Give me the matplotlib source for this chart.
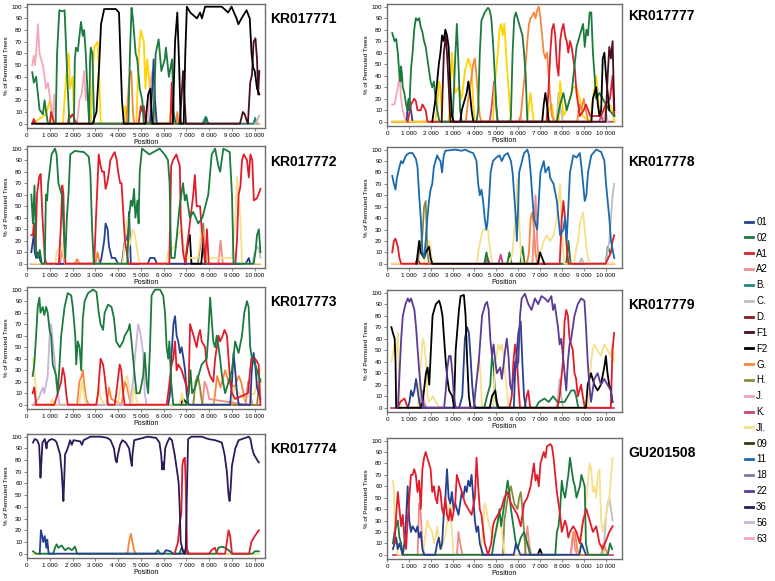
import matplotlib
matplotlib.use("Agg")
from matplotlib import pyplot as plt
from matplotlib.lines import Line2D

plt.rcParams['font.family'] = ['Liberation Sans', 'DejaVu Sans']

# subtype legend
subtypes = ['01', '02', 'A1', 'A2', 'B.', 'C.', 'D.', 'F1', 'F2', 'G.', 'H.', 'J.', 'K.',
            'JI.', '09', '11', '18', '22', '36', '56', '63']
colors = {'01': '#24418f', '02': '#1b7a3e', 'A1': '#e11d2b', 'A2': '#f28a8a', 'B.': '#1f8585',
          'C.': '#bdbdbd', 'D.': '#8b1a1a', 'F1': '#4a0e1e', 'F2': '#000000', 'G.': '#f7873a',
          'H.': '#8c8a3c', 'J.': '#f0a0c0', 'K.': '#d0407a', 'JI.': '#f6e08c', '09': '#3a3a10',
          '11': '#1a6aad', '18': '#7a7aa8', '22': '#5b3b95', '36': '#2e1a5a', '56': '#c8b4d8',
          '63': '#f4a8b8', 'gold': '#ffd400'}

x_ticks = [0, 1000, 2000, 3000, 4000, 5000, 6000, 7000, 8000, 9000, 10000]
y_ticks = [0, 10, 20, 30, 40, 50, 60, 70, 80, 90, 100]

# ---------------- KR017771 ----------------
kr71_63 = [(230, 50), (300, 58), (350, 50), (400, 60), (480, 85), (550, 60), (620, 55), (700, 50), (770, 40),
           (840, 30), (920, 35), (990, 25), (1060, 15), (1130, 5), (1200, 25), (1260, 0), (2200, 0), (2300, 20),
           (2400, 25), (2510, 45), (2580, 20), (2650, 30), (2730, 5), (2800, 0), (5300, 0), (5420, 35),
           (5500, 45), (5580, 10), (5650, 0), (10200, 0)]
kr71_02 = [(230, 44), (300, 35), (400, 40), (480, 25), (550, 12), (700, 8), (770, 20), (840, 10), (920, 0),
           (1260, 0), (1320, 60), (1420, 97), (1550, 96), (1650, 97), (1790, 30), (1860, 0), (2060, 0),
           (2100, 55), (2150, 65), (2230, 62), (2370, 87), (2450, 75), (2510, 80), (2580, 60), (2650, 30),
           (2730, 0), (2770, 55), (2800, 65), (2870, 60), (2950, 0), (4450, 0), (4520, 60), (4590, 99),
           (4650, 90), (4770, 60), (4840, 55), (4950, 30), (5060, 20), (5130, 0), (5550, 0), (5650, 60),
           (5780, 72), (5900, 45), (6050, 55), (6100, 65), (6230, 40), (6370, 55), (6440, 10), (6520, 0),
           (7800, 0), (7880, 5), (7950, 0)]
kr71_gold = [(230, 0), (840, 8), (1000, 20), (1060, 10), (1130, 0), (1580, 0), (1720, 40), (1830, 60),
             (1890, 30), (2000, 40), (2080, 0), (2800, 0), (2880, 40), (2950, 65), (3100, 70), (3170, 40),
             (3240, 0), (4240, 0), (4300, 15), (4380, 5), (4450, 0), (4800, 0), (4910, 60), (4990, 80),
             (5130, 70), (5200, 30), (5280, 55), (5350, 40), (5500, 0), (6260, 0), (6340, 20), (6420, 0),
             (10200, 0)]
kr71_a1 = [(230, 0), (300, 4), (370, 0), (1000, 0), (1060, 10), (1130, 5), (1200, 0), (1800, 0), (1850, 8),
           (1900, 5), (2000, 8), (2100, 3), (2200, 0), (4900, 0), (5000, 15), (5070, 10), (5130, 15),
           (5200, 3), (5300, 0), (6300, 0), (6350, 35), (6420, 0)]
kr71_01 = [(5400, 0), (5500, 30), (5560, 55), (5620, 20), (5700, 0)]
kr71_g = [(4350, 0), (4420, 20), (4500, 40), (4580, 45), (4650, 10), (4700, 0), (6550, 0), (6600, 10),
          (6650, 0)]
kr71_b = [(7700, 0), (7850, 6), (7950, 0), (9950, 0), (10020, 5), (10080, 0)]
kr71_c = [(10050, 0), (10200, 7)]
kr71_f2 = [(230, 0), (2880, 0), (3050, 10), (3170, 50), (3250, 85), (3390, 98), (3900, 98), (4040, 95),
           (4100, 60), (4170, 20), (4250, 0), (5200, 0), (5320, 25), (5420, 30), (5500, 0), (6400, 0),
           (6500, 70), (6600, 95), (6680, 50), (6750, 0), (6880, 0), (6950, 60), (7020, 100), (7170, 95),
           (7460, 90), (7600, 95), (7680, 90), (7820, 100), (8550, 100), (8830, 95), (8980, 100),
           (9200, 90), (9280, 85), (9420, 90), (9640, 97), (9780, 90), (9860, 60), (9930, 48),
           (10000, 45), (10100, 30), (10200, 25)]
kr71_f1 = [(6700, 0), (6780, 20), (6850, 45), (6920, 20), (6980, 0), (9350, 0), (9480, 10), (9560, 8),
           (9640, 3), (9700, 0), (9800, 35), (9880, 42), (9950, 70), (10030, 73), (10100, 55),
           (10150, 25), (10200, 45)]

# ---------------- KR017772 ----------------
kr72_02 = [(190, 60), (260, 35), (330, 68), (400, 10), (480, 5), (560, 12), (650, 0), (780, 0), (830, 60),
           (880, 55), (930, 70), (1080, 95), (1230, 100), (1300, 95), (1380, 70), (1450, 65), (1530, 60),
           (1600, 35), (1680, 5), (1750, 40), (1820, 60), (1900, 95), (2100, 98), (2500, 97), (2710, 93),
           (2780, 80), (2860, 30), (2930, 0), (4400, 0), (4480, 40), (4560, 55), (4630, 50), (4700, 65),
           (4760, 40), (4850, 55), (4900, 35), (4950, 80), (5050, 100), (5370, 95), (5820, 100),
           (6040, 95), (6190, 90), (6260, 70), (6330, 5), (6480, 5), (6560, 20), (6700, 50), (6850, 70),
           (6930, 55), (7000, 60), (7150, 40), (7300, 45), (7520, 35), (7700, 40), (7960, 60),
           (8110, 95), (8260, 100), (8400, 85), (8480, 80), (8550, 90), (8620, 100), (8900, 97),
           (9000, 60), (9070, 0), (9950, 0), (10030, 10), (10100, 25), (10180, 30), (10250, 10)]
kr72_a1 = [(190, 25), (260, 25), (300, 35), (370, 15), (440, 60), (530, 75), (600, 78), (680, 40),
           (740, 20), (780, 5), (850, 0), (1400, 0), (1480, 30), (1550, 68), (1600, 60), (1640, 20),
           (1690, 0), (2950, 0), (3030, 40), (3150, 95), (3230, 85), (3300, 80), (3380, 80), (3450, 65),
           (3520, 70), (3600, 80), (3660, 90), (3790, 95), (3850, 97), (3940, 90), (4000, 80), (4090, 70),
           (4150, 70), (4240, 40), (4300, 20), (4380, 10), (4450, 0), (6250, 0), (6330, 85), (6410, 90),
           (6560, 95), (6630, 90), (6710, 85), (6750, 40), (6850, 10), (6950, 0), (7000, 10), (7150, 35),
           (7300, 60), (7370, 77), (7450, 50), (7600, 50), (7670, 30), (7750, 20), (7820, 0), (7900, 30),
           (7980, 0), (9150, 0), (9220, 20), (9290, 60), (9370, 67), (9440, 90), (9520, 95), (9660, 90),
           (9740, 75), (9810, 95), (9890, 90), (9960, 55), (10100, 57), (10250, 65)]
kr72_01 = [(190, 10), (260, 20), (300, 25), (340, 10), (400, 5), (480, 10), (550, 5), (630, 0), (3200, 0),
           (3270, 5), (3390, 20), (3450, 35), (3540, 30), (3600, 15), (3720, 5), (3870, 5), (4000, 0),
           (4170, 0), (4260, 15), (4340, 25), (4410, 20), (4480, 45), (4560, 0), (5300, 0), (5400, 5),
           (5600, 5), (5700, 0), (9600, 0), (9740, 5), (9800, 0)]
kr72_ji = [(190, 0), (1250, 0), (1300, 10), (1450, 15), (1520, 18), (1600, 10), (1670, 0), (4200, 0),
           (4380, 35), (4440, 40), (4480, 15), (4560, 20), (4630, 30), (4700, 28), (4780, 20), (4850, 10),
           (4950, 0), (6100, 0), (6190, 10), (6480, 15), (6630, 25), (6780, 30), (6850, 20), (6950, 5),
           (7500, 5), (7670, 30), (7750, 25), (7850, 5), (9000, 5), (9150, 40), (9220, 75), (9290, 60),
           (9370, 40), (9440, 0), (10250, 0)]
kr72_h = [(7500, 0), (7600, 15), (7740, 35), (7800, 10), (7880, 0)]
kr72_f2 = [(6950, 0), (7080, 20), (7150, 25), (7220, 0), (7650, 0), (7750, 22), (7820, 0)]
kr72_c = [(9900, 0), (10000, 10), (10100, 15), (10200, 12), (10250, 5)]
kr72_a2 = [(1450, 0), (1550, 12), (1650, 0), (8400, 0), (8500, 20), (8600, 0)]
kr72_g = [(2100, 0), (2200, 4), (2300, 0), (3000, 0), (3100, 10), (3200, 0)]
kr72_k = [(190, 0), (10250, 0)]

# ---------------- KR017773 ----------------
kr73_02 = [(250, 25), (320, 35), (400, 60), (470, 85), (545, 93), (590, 80), (690, 85), (760, 78),
           (840, 85), (910, 80), (990, 65), (1060, 60), (1130, 35), (1210, 30), (1280, 25), (1350, 10),
           (1430, 35), (1500, 60), (1650, 85), (1790, 97), (1940, 95), (2010, 85), (2120, 60), (2160, 35),
           (2230, 55), (2310, 50), (2380, 30), (2450, 75), (2530, 90), (2680, 97), (2900, 100),
           (3050, 98), (3150, 80), (3230, 70), (3340, 65), (3410, 80), (3560, 87), (3710, 85), (3820, 75),
           (3920, 55), (4070, 50), (4220, 55), (4290, 60), (4440, 65), (4510, 70), (4590, 55), (4660, 40),
           (4730, 25), (4810, 10), (4950, 10), (5100, 25), (5170, 45), (5250, 20), (5320, 10), (5400, 50),
           (5470, 95), (5620, 100), (5840, 100), (5980, 95), (6060, 80), (6130, 50), (6200, 40),
           (6250, 55), (6330, 20), (6420, 0), (7000, 0), (7100, 10), (7180, 30), (7250, 10), (7380, 15),
           (7670, 35), (7890, 40), (7960, 60), (8040, 93), (8180, 55), (8260, 50), (8330, 60), (8410, 50),
           (8480, 40), (8560, 25), (8700, 10), (9000, 30), (9140, 55), (9290, 45), (9440, 60), (9540, 80),
           (9660, 90), (9730, 85), (9800, 50), (9880, 40), (10020, 35), (10250, 20)]
kr73_56 = [(250, 0), (500, 5), (690, 15), (760, 10), (910, 25), (990, 60), (1060, 70), (1130, 55),
           (1210, 40), (1280, 20), (1350, 10), (1430, 0), (4500, 0), (4660, 20), (4730, 40), (4810, 55),
           (4880, 70), (4950, 65), (5030, 55), (5100, 45), (5170, 10), (5250, 0)]
kr73_a1 = [(250, 10), (320, 15), (400, 0), (1200, 0), (1350, 10), (1500, 20), (1570, 32), (1650, 25),
           (1720, 10), (1790, 0), (3040, 0), (3120, 10), (3230, 40), (3340, 35), (3410, 25), (3490, 10),
           (3560, 0), (3850, 0), (3920, 10), (4070, 35), (4140, 30), (4220, 10), (4290, 0), (6130, 0),
           (6200, 10), (6350, 35), (6420, 40), (6500, 55), (6570, 30), (6640, 35), (6790, 30), (6940, 20),
           (7090, 10), (7160, 70), (7310, 60), (7380, 55), (7450, 50), (7530, 60), (7600, 65), (7670, 55),
           (7820, 50), (7890, 35), (8040, 25), (8180, 20), (8260, 40), (8410, 60), (8480, 55), (8590, 60),
           (8670, 65), (8780, 60), (8850, 40), (8920, 20), (9000, 10), (9140, 5), (9700, 10), (9850, 40),
           (10020, 40), (10170, 35), (10250, 0)]
kr73_01 = [(6200, 0), (6280, 10), (6350, 45), (6430, 70), (6500, 77), (6570, 60), (6640, 55), (6720, 45),
           (6790, 50), (6870, 40), (6940, 30), (7010, 10), (7090, 0), (8920, 0), (9000, 20), (9070, 45),
           (9140, 30), (9220, 10), (9300, 0), (9800, 0), (9870, 30), (9950, 45), (10020, 35), (10100, 15),
           (10250, 5)]
kr73_g = [(250, 0), (2200, 0), (2300, 20), (2400, 25), (2450, 30), (2530, 15), (2600, 5), (2700, 0),
          (3500, 0), (3600, 15), (3700, 5), (4150, 0), (4300, 20), (4400, 15), (4500, 5), (4600, 0),
          (8200, 0), (8350, 25), (8500, 15), (8700, 30), (8850, 20), (9100, 15), (9300, 25), (9400, 20),
          (9550, 5), (9650, 0)]
kr73_ji = [(250, 40), (320, 30), (400, 10), (470, 0), (1000, 0), (1100, 5), (1200, 0), (2300, 0),
           (2400, 20), (2500, 10), (2600, 0), (3050, 0), (3150, 15), (3250, 5), (3400, 0), (4000, 0),
           (4100, 15), (4250, 20), (4400, 25), (4500, 10), (4600, 0), (4700, 15), (4800, 5), (4900, 0),
           (6700, 0), (6800, 10), (6900, 0), (7300, 0), (7400, 20), (7500, 25), (7600, 10), (7700, 0),
           (9000, 0), (9100, 15), (9300, 10), (9500, 5), (10000, 10), (10150, 25), (10250, 30)]
kr73_a2 = [(7700, 0), (7800, 20), (7900, 15), (8000, 5), (9600, 0), (9700, 20), (9800, 10), (9900, 0)]
kr73_h = [(7300, 0), (7400, 20), (7500, 25), (7600, 15), (7700, 0), (10100, 0), (10200, 20), (10250, 22)]
kr73_f2 = [(6750, 0), (6850, 5), (6950, 3), (7050, 0)]
kr73_k = [(250, 0), (10250, 0)]

# ---------------- KR017774 ----------------
kr74_36 = [(266, 95), (340, 98), (444, 97), (533, 93), (562, 80), (592, 65), (636, 80), (680, 95),
           (784, 98), (858, 90), (888, 95), (977, 97), (1080, 98), (1228, 97), (1302, 95), (1376, 90),
           (1450, 85), (1524, 70), (1569, 55), (1598, 45), (1628, 60), (1672, 85), (1746, 88), (1820, 92),
           (1894, 97), (1968, 93), (2042, 97), (2338, 96), (2412, 93), (2486, 97), (2782, 100),
           (3226, 100), (3522, 99), (3670, 97), (3818, 90), (3892, 80), (3937, 78), (3996, 85),
           (4085, 93), (4188, 97), (4336, 95), (4484, 90), (4558, 80), (4603, 75), (4632, 85), (4706, 97),
           (5298, 100), (5668, 99), (5816, 95), (5890, 85), (5935, 72), (5964, 78), (6009, 72),
           (6068, 90), (6157, 95), (6260, 99), (6364, 97), (6482, 85), (6556, 75), (6630, 65),
           (6660, 60), (6704, 40), (6749, 10), (6852, 2), (6926, 0), (6970, 5), (7030, 60), (7074, 98),
           (7222, 100), (7666, 100), (7962, 98), (8258, 97), (8554, 95), (8673, 85), (8776, 70),
           (8850, 50), (8895, 45), (8939, 55), (8998, 75), (9146, 90), (9294, 97), (9738, 100),
           (9812, 98), (9886, 90), (9960, 85), (10108, 80), (10180, 78)]
kr74_a1 = [(6480, 0), (6630, 10), (6700, 25), (6780, 35), (6820, 75), (6860, 80), (6930, 82), (6970, 60),
           (7030, 0), (8000, 0), (8100, 3), (8250, 5), (8350, 0), (8700, 0), (8850, 20), (8920, 15),
           (9000, 0), (9750, 0), (9850, 10), (10000, 15), (10180, 20)]
kr74_01 = [(560, 0), (610, 20), (670, 15), (710, 10), (780, 15), (850, 5), (890, 12), (950, 0), (6000, 0),
           (6100, 3), (6300, 2), (6400, 0), (6900, 0), (7000, 5), (7100, 0)]
kr74_02 = [(266, 2), (400, 0), (1150, 0), (1230, 5), (1300, 8), (1380, 5), (1520, 7), (1670, 3),
           (1820, 5), (1970, 3), (2110, 6), (2200, 0), (5650, 0), (5740, 3), (5850, 0), (6700, 0),
           (6780, 5), (6900, 0), (8300, 0), (8400, 5), (8550, 6), (8700, 5), (8850, 3), (9000, 0),
           (9900, 0), (10000, 2), (10180, 2)]
kr74_g = [(4350, 0), (4410, 0), (4480, 10), (4560, 17), (4630, 10), (4700, 3), (4780, 0)]
kr74_ji = [(266, 0), (10180, 0)]

# ---------------- KR017777 ----------------
kr77_02 = [(240, 77), (345, 70), (420, 72), (495, 60), (570, 40), (615, 35), (645, 48), (690, 40),
           (720, 30), (795, 25), (870, 15), (945, 10), (990, 20), (1020, 10), (1095, 45), (1170, 60),
           (1245, 80), (1320, 90), (1395, 88), (1470, 90), (1545, 82), (1620, 78), (1695, 70), (1770, 65),
           (1845, 55), (1920, 45), (1995, 35), (2070, 30), (2145, 35), (2220, 20), (2295, 10), (2400, 0),
           (3000, 0), (3045, 20), (3120, 55), (3195, 85), (3270, 50), (3345, 10), (3420, 0), (4095, 0),
           (4170, 10), (4245, 60), (4320, 88), (4470, 95), (4620, 99), (4695, 97), (4770, 90), (4845, 70),
           (4920, 45), (4995, 15), (5070, 0), (5640, 0), (5670, 5), (5745, 60), (5820, 90), (5895, 95),
           (5970, 90), (6045, 85), (6120, 80), (6195, 75), (6270, 60), (6345, 40), (6420, 0), (7770, 0),
           (7920, 15), (8070, 25), (8220, 10), (8445, 25), (8670, 65), (8820, 75), (8970, 85), (9045, 65),
           (9120, 80), (9195, 75), (9270, 95), (9345, 95), (9420, 60), (9495, 40), (9570, 20), (9720, 25),
           (9870, 20), (10020, 15), (10170, 10), (10400, 5)]
kr77_a1 = [(945, 0), (1095, 15), (1245, 20), (1320, 18), (1395, 10), (1545, 10), (1620, 15), (1770, 10),
           (1850, 0), (7300, 0), (7395, 30), (7470, 60), (7545, 80), (7620, 85), (7695, 75), (7770, 50),
           (7845, 40), (7920, 70), (7995, 80), (8070, 85), (8145, 75), (8220, 70), (8295, 60), (8370, 70),
           (8445, 65), (8520, 55), (8595, 45), (8670, 25), (8745, 15), (8820, 5), (9000, 10), (9100, 15),
           (9300, 5), (9800, 5), (10000, 15), (10200, 20), (10320, 40), (10400, 5)]
kr77_g = [(3600, 0), (3720, 20), (3870, 40), (3945, 50), (4020, 55), (4095, 40), (4170, 20), (4245, 5),
          (4320, 0), (6050, 0), (6120, 5), (6270, 35), (6345, 50), (6420, 70), (6495, 85), (6570, 90),
          (6645, 92), (6720, 95), (6795, 90), (6870, 97), (6945, 100), (7020, 90), (7095, 75), (7170, 60),
          (7245, 55), (7320, 60), (7395, 40), (7470, 20), (7545, 5), (7650, 0), (8700, 0), (8800, 15),
          (8900, 10), (9000, 20), (9100, 10), (9200, 0)]
kr77_gold = [(240, 0), (2200, 0), (2295, 10), (2370, 35), (2445, 30), (2520, 0), (2820, 0), (2895, 30),
             (2970, 60), (3045, 40), (3120, 25), (3270, 30), (3420, 20), (3570, 45), (3720, 55), (3795, 50),
             (3870, 45), (3945, 15), (4020, 0), (4845, 0), (4920, 30), (4995, 45), (5070, 60), (5145, 80),
             (5220, 85), (5295, 75), (5370, 85), (5445, 60), (5520, 40), (5595, 20), (5670, 0), (6420, 0),
             (6495, 15), (6570, 25), (6645, 10), (6720, 0), (7300, 0), (7400, 10), (7550, 15), (7650, 0),
             (7850, 0), (7920, 35), (7995, 20), (8070, 5), (8200, 10), (8520, 30), (8670, 30), (8820, 20),
             (8950, 5), (9300, 0), (9420, 20), (9570, 40), (9645, 25), (9720, 5), (10170, 15),
             (10320, 10), (10400, 0)]
kr77_f2 = [(2070, 0), (2220, 20), (2370, 50), (2445, 60), (2520, 75), (2595, 70), (2670, 80), (2745, 75),
           (2820, 65), (2895, 30), (2970, 5), (3050, 0), (3350, 0), (3420, 10), (3570, 20), (3645, 25),
           (3720, 35), (3795, 25), (3870, 10), (3950, 0), (7100, 0), (7170, 15), (7245, 25), (7320, 15),
           (7400, 0), (9350, 0), (9420, 20), (9570, 30), (9645, 15), (9720, 5), (9795, 10), (9870, 55),
           (9945, 60), (10020, 40), (10095, 25), (10170, 10)]
kr77_f1 = [(2500, 0), (2600, 60), (2700, 75), (2800, 40), (2900, 0), (10000, 0), (10095, 40),
           (10170, 65), (10245, 55), (10320, 70), (10370, 30), (10400, 10)]
kr77_63 = [(240, 15), (345, 15), (495, 30), (570, 40), (645, 20), (720, 10), (870, 0), (6000, 0),
           (6100, 5), (6200, 0)]
kr77_k = [(240, 0), (4700, 0), (4800, 15), (4900, 35), (4950, 25), (5050, 0), (9700, 0), (9800, 5),
          (9900, 0), (10400, 0)]
kr77_01 = [(900, 0), (945, 15), (1020, 20), (1095, 10), (1170, 0)]
kr77_c = [(7750, 0), (7850, 25), (7950, 10), (8050, 0), (9900, 0), (10000, 10), (10100, 0)]

# ---------------- KR017778 ----------------
kr78_11 = [(240, 77), (315, 70), (390, 65), (450, 75), (570, 85), (645, 90), (720, 88), (870, 95),
           (1020, 97), (1170, 97), (1320, 92), (1395, 85), (1470, 60), (1545, 40), (1620, 10), (1695, 5),
           (1770, 20), (1845, 40), (1920, 55), (1995, 65), (2070, 70), (2145, 85), (2220, 90), (2295, 95),
           (2370, 92), (2445, 90), (2520, 80), (2595, 95), (2670, 99), (3120, 100), (3420, 99),
           (3570, 100), (3795, 98), (3945, 97), (4095, 90), (4170, 70), (4245, 60), (4320, 65),
           (4395, 55), (4470, 40), (4545, 30), (4590, 35), (4650, 50), (4740, 80), (4845, 90), (4995, 93),
           (5145, 95), (5250, 90), (5370, 95), (5520, 97), (5670, 90), (5745, 80), (5820, 60), (5895, 40),
           (5940, 20), (6000, 50), (6045, 80), (6270, 97), (6420, 100), (6495, 95), (6570, 80),
           (6645, 60), (6720, 40), (6870, 30), (6945, 55), (7020, 80), (7170, 90), (7245, 80), (7395, 85),
           (7470, 75), (7620, 70), (7770, 55), (7845, 40), (7920, 25), (8070, 30), (8145, 40), (8220, 20),
           (8295, 50), (8370, 80), (8520, 95), (8670, 93), (8820, 97), (8895, 85), (8970, 70), (9045, 55),
           (9120, 60), (9195, 80), (9345, 95), (9570, 100), (9795, 98), (9945, 90), (10020, 70),
           (10170, 40), (10245, 20), (10395, 5)]
kr78_h = [(1400, 0), (1470, 10), (1620, 25), (1695, 50), (1770, 55), (1815, 30), (1845, 10), (1920, 0)]
kr78_f2 = [(1350, 0), (1470, 20), (1545, 10), (1695, 5), (1770, 10), (1920, 15), (1995, 5), (2070, 0),
           (6900, 0), (7000, 10), (7100, 5), (7200, 0)]
kr78_ji = [(240, 0), (1700, 0), (1770, 10), (1920, 20), (1995, 15), (2070, 0), (4100, 0), (4170, 10),
           (4320, 25), (4395, 30), (4470, 30), (4620, 30), (4695, 15), (4770, 5), (4850, 0), (5600, 0),
           (5745, 10), (5895, 50), (5970, 75), (6045, 40), (6120, 10), (6200, 0), (6900, 0), (7020, 10),
           (7170, 20), (7320, 25), (7470, 20), (7620, 25), (7770, 40), (7920, 70), (7995, 30), (8100, 0),
           (8550, 0), (8670, 15), (8745, 20), (8820, 35), (8895, 40), (8970, 45), (9045, 30), (9120, 15),
           (9195, 5), (9300, 0), (10395, 0)]
kr78_g = [(6400, 0), (6495, 10), (6570, 40), (6645, 45), (6720, 30), (6795, 10), (6870, 0)]
kr78_a2 = [(6650, 0), (6720, 30), (6795, 60), (6870, 20), (6950, 0)]
kr78_a1 = [(240, 10), (315, 20), (390, 22), (495, 15), (570, 5), (650, 0), (1300, 0), (1400, 5),
           (1500, 0), (7900, 0), (7995, 40), (8070, 55), (8145, 40), (8220, 15), (8300, 0), (10000, 0),
           (10245, 10), (10320, 20), (10395, 25)]
kr78_c = [(8800, 0), (8900, 5), (9000, 0), (10000, 0), (10170, 20), (10245, 40), (10320, 60), (10395, 70)]
kr78_02 = [(4450, 0), (4550, 10), (4650, 0), (5500, 0), (5600, 10), (5700, 0), (6100, 0), (6200, 15),
           (6300, 0), (8200, 0), (8300, 20), (8400, 0), (10000, 0), (10100, 15), (10200, 10)]
kr78_k = [(240, 0), (4500, 0), (4600, 5), (4700, 0), (5100, 0), (5200, 8), (5300, 0), (10395, 0)]

# ---------------- KR017779 ----------------
kr79_22 = [(498, 0), (574, 30), (649, 60), (725, 80), (846, 90), (951, 95), (1027, 92), (1102, 95),
           (1178, 90), (1253, 85), (1329, 70), (1404, 50), (1480, 30), (1555, 15), (1631, 5), (1706, 0),
           (2612, 0), (2688, 15), (2763, 35), (2839, 45), (2914, 45), (2990, 30), (3065, 10), (3141, 0),
           (3971, 0), (4047, 15), (4198, 40), (4349, 80), (4500, 90), (4575, 92), (4651, 85), (4726, 60),
           (4802, 45), (4877, 55), (4953, 40), (5028, 30), (5179, 35), (5255, 25), (5406, 50), (5481, 60),
           (5557, 45), (5632, 20), (5708, 15), (5859, 40), (5934, 35), (6010, 40), (6085, 80), (6161, 95),
           (6312, 99), (6463, 90), (6614, 85), (6765, 95), (6916, 90), (7067, 97), (7218, 95), (7369, 92),
           (7520, 97), (7595, 85), (7671, 90), (7822, 70), (7897, 55), (7973, 60), (8048, 45), (8124, 30),
           (8199, 15), (8275, 40), (8350, 55), (8426, 60), (8577, 80), (8728, 90), (8879, 95), (9030, 93),
           (9105, 70), (9181, 40), (9256, 20), (9332, 5), (9483, 25), (9634, 30), (9785, 20), (9936, 25),
           (10238, 15), (10314, 5)]
kr79_f2 = [(200, 70), (270, 65), (350, 60), (390, 40), (420, 0), (1550, 0), (1631, 5), (1782, 30),
           (1857, 35), (1933, 20), (2008, 50), (2084, 80), (2159, 85), (2235, 90), (2386, 93), (2461, 88),
           (2537, 80), (2612, 60), (2688, 40), (2763, 25), (2839, 15), (2990, 10), (3065, 0), (3141, 50),
           (3292, 85), (3367, 97), (3518, 98), (3594, 80), (3669, 40), (3745, 10), (3820, 0), (4700, 0),
           (4802, 10), (4953, 15), (5028, 5), (5100, 0), (9100, 0), (9181, 20), (9332, 30), (9483, 20),
           (9634, 15), (9785, 20), (9936, 35), (10012, 45), (10087, 30), (10163, 20), (10238, 15),
           (10314, 5)]
kr79_01 = [(950, 0), (1027, 5), (1102, 15), (1178, 10), (1253, 15), (1329, 25), (1404, 15), (1480, 5),
           (1550, 0), (3300, 0), (3443, 10), (3563, 60), (3669, 70), (3745, 65), (3820, 45), (3896, 20),
           (3971, 5), (4050, 0), (5800, 0), (5859, 30), (6010, 65), (6116, 75), (6191, 40), (6267, 10),
           (6350, 0)]
kr79_ji = [(200, 40), (350, 55), (420, 45), (498, 65), (574, 10), (649, 0), (1400, 0), (1480, 20),
           (1555, 40), (1631, 60), (1706, 55), (1782, 40), (1857, 10), (1933, 5), (2084, 10), (2235, 5),
           (2400, 0), (4000, 0), (4122, 30), (4198, 45), (4273, 30), (4350, 0), (4850, 0), (4953, 40),
           (5104, 55), (5179, 50), (5255, 55), (5330, 45), (5406, 30), (5481, 15), (5557, 0), (9200, 0),
           (9332, 40), (9407, 50), (9483, 55), (9634, 50), (9785, 45), (9936, 55), (10087, 50),
           (10238, 45), (10314, 55), (10390, 40)]
kr79_a1 = [(500, 0), (600, 5), (800, 8), (950, 0), (5600, 0), (5708, 10), (5783, 40), (5859, 55),
           (5934, 45), (6010, 20), (6085, 0), (6300, 0), (6388, 10), (6463, 15), (6550, 0), (7800, 0),
           (7897, 10), (8048, 40), (8124, 75), (8199, 85), (8275, 80), (8350, 60), (8426, 55), (8501, 50),
           (8577, 30), (8652, 25), (8728, 10), (8879, 20), (8954, 10), (9050, 0), (10238, 0),
           (10314, 50), (10390, 65)]
kr79_02 = [(4450, 0), (4575, 10), (4726, 20), (4802, 45), (4877, 35), (4953, 10), (5050, 0), (6800, 0),
           (6950, 5), (7200, 8), (7400, 5), (7600, 10), (7800, 5), (8124, 5), (8275, 10), (8426, 15),
           (8577, 15), (8652, 10), (8750, 0)]
kr79_c = [(7750, 0), (7822, 10), (7897, 25), (7973, 10), (8050, 0)]
kr79_a2 = [(1500, 0), (1600, 15), (1700, 5), (1800, 0)]
kr79_k = [(200, 0), (10390, 0)]

# ---------------- GU201508 ----------------
gu_a1 = [(345, 10), (420, 35), (495, 55), (570, 40), (645, 25), (720, 35), (795, 15), (870, 5), (945, 30),
         (1020, 50), (1095, 70), (1170, 70), (1245, 75), (1320, 70), (1395, 55), (1470, 65), (1545, 40),
         (1620, 75), (1695, 85), (1770, 90), (1845, 85), (1920, 80), (1995, 75), (2070, 55), (2145, 60),
         (2220, 50), (2295, 45), (2370, 60), (2445, 55), (2520, 40), (2595, 35), (2670, 50), (2745, 35),
         (2820, 30), (2895, 40), (2970, 30), (3120, 45), (3195, 70), (3270, 65), (3420, 55), (3570, 45),
         (3720, 40), (3870, 35), (4020, 50), (4095, 85), (4170, 60), (4245, 40), (4320, 35), (4470, 10),
         (4620, 0), (4770, 10), (4845, 25), (4920, 30), (5070, 35), (5220, 40), (5370, 50), (5520, 55),
         (5670, 45), (5820, 40), (5970, 35), (6120, 25), (6270, 45), (6420, 50), (6570, 60), (6720, 80),
         (6795, 65), (6870, 70), (6945, 60), (7020, 80), (7095, 85), (7170, 90), (7245, 85), (7320, 95),
         (7470, 97), (7545, 95), (7620, 85), (7695, 70), (7770, 55), (7845, 45), (7920, 35), (7995, 20),
         (8070, 25), (8145, 30), (8220, 25), (8295, 15), (8370, 20), (8520, 25), (8670, 20), (8820, 10),
         (8970, 30), (9120, 40), (9270, 30), (9420, 20), (9570, 25), (9720, 10), (9870, 5), (10170, 20),
         (10320, 25)]
gu_01 = [(270, 5), (345, 10), (420, 15), (495, 5), (570, 10), (645, 5), (720, 0), (795, 10), (870, 30),
         (945, 60), (1020, 30), (1095, 20), (1170, 25), (1320, 20), (1395, 25), (1470, 15), (1545, 20),
         (1620, 5), (1700, 0), (2200, 0), (2295, 10), (2370, 15), (2445, 5), (2520, 10), (2595, 35),
         (2670, 50), (2745, 75), (2820, 50), (2895, 45), (2970, 55), (3045, 40), (3120, 45), (3270, 35),
         (3345, 45), (3420, 55), (3495, 50), (3570, 60), (3645, 55), (3720, 65), (3795, 60), (3870, 70),
         (3945, 50), (4020, 30), (4095, 20), (4170, 25), (4245, 10), (4320, 5), (4400, 0), (5800, 0),
         (5900, 10), (6000, 5), (6100, 0), (8800, 0), (8900, 10), (9000, 5), (9100, 0)]
gu_02 = [(270, 10), (345, 20), (420, 25), (495, 30), (570, 15), (645, 10), (720, 0), (4800, 0), (4920, 15),
         (5070, 30), (5145, 40), (5220, 25), (5295, 35), (5370, 45), (5445, 55), (5520, 65), (5595, 55),
         (5670, 40), (5745, 30), (5820, 20), (5895, 10), (5970, 5), (6120, 15), (6270, 20), (6420, 10),
         (6550, 0), (7700, 0), (7770, 20), (7845, 25), (7920, 40), (7995, 65), (8070, 55), (8145, 50),
         (8220, 60), (8295, 70), (8370, 85), (8445, 75), (8520, 65), (8595, 60), (8670, 50), (8745, 55),
         (8820, 60), (8895, 70), (8970, 65), (9045, 60), (9100, 10), (9200, 0), (10100, 0), (10200, 10),
         (10300, 5)]
gu_h = [(5300, 0), (5370, 30), (5445, 40), (5520, 50), (5670, 60), (5820, 45), (5970, 40), (6045, 50),
        (6120, 55), (6195, 40), (6270, 20), (6350, 0)]
gu_ji = [(270, 65), (320, 55), (345, 30), (420, 10), (500, 0), (1650, 0), (1770, 20), (1845, 30),
         (1920, 25), (2070, 20), (2145, 10), (2220, 15), (2295, 25), (2370, 15), (2500, 5), (2700, 20),
         (2820, 40), (2895, 45), (2970, 20), (3050, 0), (4300, 0), (4470, 45), (4545, 40), (4620, 30),
         (4770, 20), (4920, 15), (5070, 25), (5145, 35), (5220, 30), (5300, 10), (5400, 0), (8800, 0),
         (8970, 30), (9045, 35), (9120, 50), (9195, 65), (9270, 80), (9345, 75), (9420, 55), (9495, 60),
         (9570, 50), (9645, 70), (9720, 75), (9795, 30), (9870, 20), (10020, 35), (10170, 50), (10320, 85)]
gu_c = [(9900, 0), (10020, 35), (10095, 45), (10170, 50), (10245, 40), (10320, 30)]
gu_a2 = [(1400, 0), (1470, 45), (1545, 35), (1620, 10), (1700, 0), (3200, 0), (3270, 20), (3345, 10),
         (3450, 0), (6300, 0), (6420, 25), (6500, 10), (6600, 0), (8400, 0), (8520, 20), (8600, 5), (8700, 0)]
gu_g = [(8400, 0), (8500, 15), (8600, 20), (8700, 5), (8800, 0), (9800, 0), (9900, 10), (10000, 5),
        (10100, 0)]
gu_f2 = [(6900, 0), (7000, 5), (7100, 0)]
gu_k = [(270, 0), (10320, 0)]

# panels: (name, column, box in px (x0, y0, x1, y1), title y px, series list)
panels = [
    ('KR017771', 0, (27, 4, 265, 128), 19,
     [('gold', kr71_gold), ('63', kr71_63), ('A1', kr71_a1), ('01', kr71_01), ('G.', kr71_g),
      ('B.', kr71_b), ('C.', kr71_c), ('02', kr71_02), ('F1', kr71_f1), ('F2', kr71_f2)]),
    ('KR017772', 0, (27, 146, 265, 268), 162,
     [('K.', kr72_k), ('G.', kr72_g), ('A2', kr72_a2), ('C.', kr72_c), ('01', kr72_01), ('H.', kr72_h),
      ('F2', kr72_f2), ('JI.', kr72_ji), ('A1', kr72_a1), ('02', kr72_02)]),
    ('KR017773', 0, (27, 287, 265, 409), 302,
     [('K.', kr73_k), ('F2', kr73_f2), ('G.', kr73_g), ('JI.', kr73_ji), ('A2', kr73_a2), ('H.', kr73_h),
      ('56', kr73_56), ('01', kr73_01), ('A1', kr73_a1), ('02', kr73_02)]),
    ('KR017774', 0, (27, 434, 265, 558), 449,
     [('JI.', kr74_ji), ('G.', kr74_g), ('02', kr74_02), ('01', kr74_01), ('A1', kr74_a1), ('36', kr74_36)]),
    ('KR017777', 1, (387, 4, 622, 126), 16,
     [('K.', kr77_k), ('63', kr77_63), ('01', kr77_01), ('C.', kr77_c), ('gold', kr77_gold), ('G.', kr77_g),
      ('A1', kr77_a1), ('02', kr77_02), ('F2', kr77_f2), ('F1', kr77_f1)]),
    ('KR017778', 1, (387, 147, 622, 268), 162,
     [('K.', kr78_k), ('02', kr78_02), ('C.', kr78_c), ('JI.', kr78_ji), ('G.', kr78_g), ('A2', kr78_a2),
      ('A1', kr78_a1), ('H.', kr78_h), ('F2', kr78_f2), ('11', kr78_11)]),
    ('KR017779', 1, (387, 290, 622, 412), 305,
     [('K.', kr79_k), ('A2', kr79_a2), ('C.', kr79_c), ('02', kr79_02), ('JI.', kr79_ji), ('A1', kr79_a1),
      ('01', kr79_01), ('F2', kr79_f2), ('22', kr79_22)]),
    ('GU201508', 1, (387, 438, 622, 559), 453,
     [('K.', gu_k), ('F2', gu_f2), ('G.', gu_g), ('A2', gu_a2), ('C.', gu_c), ('H.', gu_h), ('JI.', gu_ji),
      ('02', gu_02), ('01', gu_01), ('A1', gu_a1)]),
]

W, H = 775, 581
fig = plt.figure(figsize=(W / 100, H / 100), dpi=100)

for name, col, box, title_y, series in panels:
    x0, y0, x1, y1 = box
    ax = fig.add_axes([x0 / W, 1 - y1 / H, (x1 - x0) / W, (y1 - y0) / H])
    for key, pts in series:
        xs = [p[0] for p in pts]
        ys = [p[1] for p in pts]
        ax.plot(xs, ys, color=colors[key], lw=1.3, solid_joinstyle='round')
    ax.set_xlim(0, 10450 if col == 0 else 10750)
    ax.set_ylim(-3.7, 102.3)
    ax.set_xticks(x_ticks)
    ax.set_xticklabels([f"{v:,}".replace(",", " ") for v in x_ticks])
    ax.set_yticks(y_ticks)
    ax.tick_params(labelsize=4.5, length=2, width=0.5, pad=1.5, color='#555555')
    for s in ax.spines.values():
        s.set_color('#6e6e6e')
        s.set_linewidth(1.0)
    ax.set_xlabel('Position', fontsize=5, labelpad=1)
    ax.set_ylabel('% of Permuted Trees', fontsize=4.5, labelpad=2)
    tx = 270 if col == 0 else 628
    fig.text(tx / W, 1 - title_y / H, name, fontsize=10, fontweight='bold', va='center', ha='left')

handles = [Line2D([0], [0], color=colors[k], lw=2) for k in subtypes]
fig.legend(handles, subtypes, loc='upper left', bbox_to_anchor=(745 / W, 1 - 217 / H), frameon=False,
           fontsize=7, handlelength=0.8, handletextpad=0.35, labelspacing=0.6, borderpad=0,
           borderaxespad=0)

fig.savefig('out.png', dpi=100)
